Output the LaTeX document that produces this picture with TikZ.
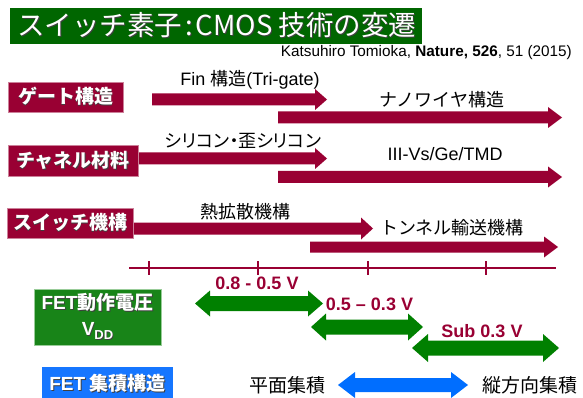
\documentclass[tikz,border=0pt]{standalone}
\usepackage{fontspec}
\setmainfont{Liberation Sans}
\newfontfamily\jp{Noto Sans CJK JP}
\newfontfamily\jpp[RawFeature=+palt]{Noto Sans CJK JP}
\definecolor{maroon}{RGB}{153,0,51}
\definecolor{titlegreen}{RGB}{0,102,0}
\definecolor{boxgreen}{RGB}{24,132,24}
\definecolor{arrgreen}{RGB}{0,128,0}
\definecolor{arrblue}{RGB}{0,110,255}
\definecolor{boxblue}{RGB}{22,118,255}
\definecolor{lblred}{RGB}{153,0,51}
\newcommand\shtx[1]{\leavevmode\rlap{\kern0.9pt\raisebox{-0.9pt}{\color{black!75}#1}}#1}
\newcommand\rarr[7]{\fill[#1] (#2,{#4-#5}) -- ({#3-#7},{#4-#5}) -- ({#3-#7},{#4-#6}) -- (#3,#4) -- ({#3-#7},{#4+#6}) -- ({#3-#7},{#4+#5}) -- (#2,{#4+#5}) -- cycle;}
\newcommand\darr[7]{\fill[#1] (#2,#4) -- ({#2+#7},{#4-#6}) -- ({#2+#7},{#4-#5}) -- ({#3-#7},{#4-#5}) -- ({#3-#7},{#4-#6}) -- (#3,#4) -- ({#3-#7},{#4+#6}) -- ({#3-#7},{#4+#5}) -- ({#2+#7},{#4+#5}) -- ({#2+#7},{#4+#6}) -- cycle;}
\tikzset{
  catbox/.style={fill=maroon, draw=maroon!50!white, line width=0.6pt, text=white, inner sep=0pt,
    font=\jp\bfseries\fontsize{19}{21}\selectfont},
  lbl/.style={inner sep=0pt, text=black, font=\jp\fontsize{18}{20}\selectfont},
  vlbl/.style={inner sep=0pt, text=lblred, font=\bfseries\fontsize{18}{20}\selectfont},
  tick/.style={draw=maroon, line width=1.4pt},
}
\begin{document}
\begin{tikzpicture}[x=1pt,y=-1pt]
\useasboundingbox (0,0) rectangle (583,398);
% title
\node[fill=titlegreen, minimum width=412pt, minimum height=36pt, inner sep=0pt, anchor=north west] (titlebar) at (10,8) {};
\node[anchor=west, inner sep=0pt, text=white, font=\jp\fontsize{27.5}{29}\selectfont] (title) at (17,26) {\shtx{スイッチ素子\kern3pt:\kern3pt CMOS 技術の変遷}};
\node[anchor=east, inner sep=0pt, font=\fontsize{15.3}{17}\selectfont] (cite) at (572,53) {Katsuhiro Tomioka, \textbf{Nature, 526}, 51 (2015)};
% maroon arrows
\rarr{maroon}{152}{327}{99.5}{6}{10.5}{12}
\rarr{maroon}{278}{562}{117.5}{6}{10.5}{14}
\rarr{maroon}{130}{327}{158.5}{6}{10.5}{12}
\rarr{maroon}{278}{562}{177}{6}{10.5}{14}
\rarr{maroon}{125}{373}{228.5}{6}{11}{12}
\rarr{maroon}{310}{558}{247}{5.5}{10.5}{14}
% category boxes
\node[catbox, minimum width=115pt, minimum height=30pt] (gate) at (65.5,97) {\shtx{ゲート構造}};
\node[catbox, minimum width=130pt, minimum height=31pt] (chan) at (73,160.5) {\shtx{チャネル材料}};
\node[catbox, minimum width=126pt, minimum height=30pt] (sw) at (70,223) {\shtx{スイッチ機構}};
% labels
\node[lbl] (fin) at (250,80) {\fontspec{Liberation Sans}Fin {\jp 構造}(Tri-gate)};
\node[lbl] (nw) at (442,100) {ナノワイヤ構造};
\node[lbl, font=\jpp\fontsize{18}{20}\selectfont] (si) at (243,141) {シリコン・歪シリコン};
\node[lbl] (iii) at (445,154) {\fontspec{Liberation Sans}III-Vs/Ge/TMD};
\node[lbl] (th) at (245,212) {熱拡散機構};
\node[lbl] (tn) at (452,228) {トンネル輸送機構};
% timeline
\coordinate (t0) at (129,268);
\coordinate (t1) at (556,268);
\draw[tick] (t0) -- (t1);
\foreach \x in {149,258,368,486} {\draw[tick] (\x,261) -- (\x,275);}
% voltage
\node[fill=boxgreen, draw=green!50!black!40!white, line width=0.6pt, minimum width=127pt, minimum height=56pt, inner sep=0pt, text=white, align=center,
  font=\jp\bfseries\fontsize{19}{25}\selectfont] (vdd) at (97.5,317) {\shtx{{\fontspec{Liberation Sans}FET}動作電圧}\\[1pt]\shtx{{\fontspec{Liberation Sans}V\raisebox{-4pt}{\fontsize{13}{13}\selectfont DD}}}};
\darr{arrgreen}{195}{323}{303.5}{7.5}{13}{15}
\darr{arrgreen}{311}{423}{327}{7.5}{13.5}{15}
\darr{arrgreen}{412}{559}{348}{7.5}{14}{16}
\node[vlbl] (v1) at (257,283) {0.8 - 0.5 V};
\node[vlbl] (v2) at (369.5,304) {0.5 – 0.3 V};
\node[vlbl] (v3) at (482,331) {Sub 0.3 V};
% integration
\node[fill=boxblue, minimum width=131pt, minimum height=34pt, inner sep=0pt, text=white,
  font=\jp\bfseries\fontsize{19}{21}\selectfont, anchor=north] (integ) at (107.5,367) {\shtx{{\fontspec{Liberation Sans}FET} 集積構造}};
\node[lbl, font=\jp\fontsize{19}{21}\selectfont] (plan) at (287.5,385) {平面集積};
\node[lbl, font=\jp\fontsize{19}{21}\selectfont] (vert) at (529.5,385) {縦方向集積};
\darr{arrblue}{338}{468}{385}{7}{13}{17}
\end{tikzpicture}
\end{document}
